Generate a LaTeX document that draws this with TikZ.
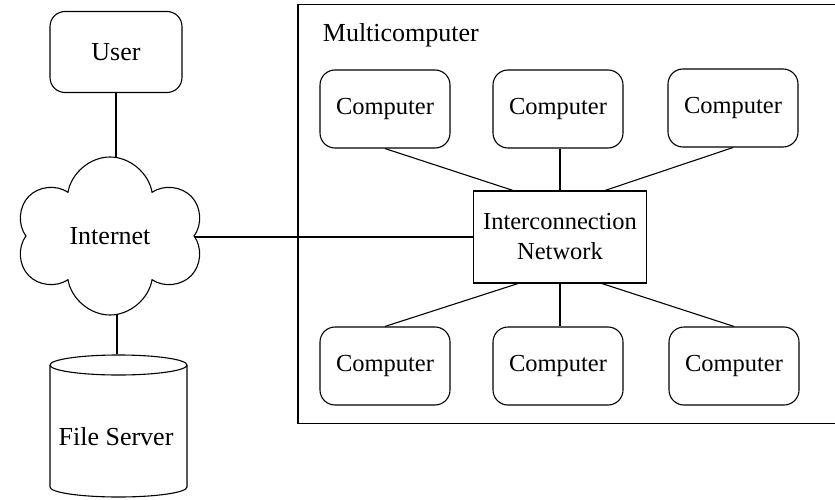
\documentclass[tikz,border=0pt]{standalone}
\usepackage{fontspec}
\setmainfont{Liberation Serif}
\usetikzlibrary{shapes.symbols,backgrounds}
\begin{document}
\begin{tikzpicture}[x=1pt,y=-1pt,
  line width=1.1pt,
  every node/.style={font=\fontsize{24.5}{30}\selectfont},
  big/.style={font=\fontsize{26}{31}\selectfont},
  rbox/.style={draw, rounded corners=15pt, minimum width=130pt, minimum height=78pt, inner sep=0pt},
  netbox/.style={draw, minimum width=173pt, minimum height=92pt, align=center, inner sep=0pt},
  link/.style={line width=1.1pt}
]
\useasboundingbox (0,0) rectangle (835,500);
\clip (0,0) rectangle (835,500);

% enclosing multicomputer frame (runs off the right edge)
\node[draw, minimum width=560pt, minimum height=419pt, inner sep=0pt] (frame) at (578,214) {};
\node[anchor=west, big] (mclabel) at (319,35) {Multicomputer};

% left column
\node[rbox, big, minimum width=132pt, minimum height=81pt] (user) at (116,52) {User};
\node[cloud, draw, fill=white, big, cloud puffs=6, cloud puff arc=160, aspect=1.2,
      minimum width=188pt, minimum height=158pt, inner sep=0pt, shape border rotate=15] (inet) at (110,236) {Internet};

% file server drawn as a cylinder around an invisible node
\node[minimum width=137pt, minimum height=144pt, inner sep=0pt] (fs) at (118.5,427) {};
\node[big] (fslabel) at (116,437) {File Server};
\draw (118.5,365) ellipse [x radius=68.5, y radius=10];
\draw (50,365) -- (50,487) arc [start angle=180, end angle=0, x radius=68.5, y radius=10] -- (187,365);

% interconnection network
\node[netbox] (icn) at (560,237) {Interconnection\\Network};

% computers
\node[rbox] (c1) at (385,109) {Computer};
\node[rbox] (c2) at (558,109) {Computer};
\node[rbox] (c3) at (733,108) {Computer};
\node[rbox] (c4) at (385,366) {Computer};
\node[rbox] (c5) at (558,366) {Computer};
\node[rbox] (c6) at (734,366) {Computer};

% connections
\begin{pgfonlayer}{background}
\draw[link] (user.south) -- (user.south |- inet.center);
\draw[link] ([xshift=-1.5pt]fs.north) -- ([xshift=-1.5pt]fs.north |- inet.center);
\draw[link] (icn.west) -- (icn.west -| inet.center);
\end{pgfonlayer}
\draw[link] (c1.south) -- ([xshift=-47pt]icn.north);
\draw[link] (c2.south -| icn.north) -- (icn.north);
\draw[link] (c3.south) -- ([xshift=45pt]icn.north);
\draw[link] ([xshift=-42pt]icn.south) -- (c4.north);
\draw[link] (icn.south) -- (icn.south |- c5.north);
\draw[link] ([xshift=42pt]icn.south) -- (c6.north);
\end{tikzpicture}
\end{document}
